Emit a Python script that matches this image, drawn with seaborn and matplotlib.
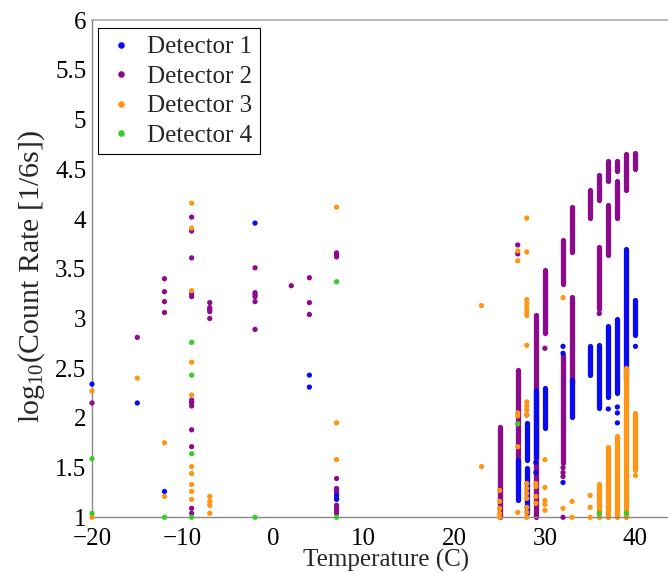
import numpy as np
import pandas as pd
import matplotlib
matplotlib.use('Agg')
import matplotlib.pyplot as plt
import seaborn as sns

# detector colours (MATLAB style)
colors = {'Detector 1': '#0a0af0', 'Detector 2': '#8c0a8c',
          'Detector 3': '#ff9512', 'Detector 4': '#36cc2a'}

# ---- isolated readings (temperature, log10 count rate) ----
d1_temp = [-20, -15, -12, -2, 4, 4, 7, 7, 28, 29, 29, 32, 32, 32, 37, 38, 38, 38, 40]
d1_rate = [2.34, 2.15, 1.26, 3.96, 2.43, 2.31, 1.22, 1.18, 2.03, 1.55, 1.45,
           2.72, 2.65, 1.35, 2.09, 2.11, 2.05, 1.95, 2.72]

d2_temp = [-20, -15, -12, -12, -12, -12,
           -9, -9, -9, -9, -9, -9, -9, -9, -9, -9, -9, -9, -9,
           -7, -7, -7, -7, -7,
           -2, -2, -2, -2, -2, -2,
           2, 4, 4, 4,
           7, 7, 7, 7, 7, 7, 7, 7, 7, 7, 7, 7,
           27, 27, 30, 32, 32, 32, 32, 36]
d2_rate = [2.15, 2.81, 3.40, 3.27, 3.17, 3.06,
           4.02, 3.88, 3.61, 3.25, 3.22, 2.18, 2.16, 2.15, 2.12, 1.88, 1.71, 1.09, 1.04,
           3.16, 3.11, 3.09, 3.07, 3.00,
           3.51, 3.26, 3.24, 3.22, 3.17, 2.89,
           3.33, 3.41, 3.16, 3.04,
           3.66, 3.64, 3.62, 1.39, 1.29, 1.27, 1.25, 1.19, 1.12, 1.09, 1.07, 1.04,
           3.74, 3.65, 2.70, 1.50, 1.45, 1.41, 1.00, 3.05]

d3_temp = [-20, -20, -15, -12, -12,
           -9, -9, -9, -9, -9, -9, -9, -9, -9, -9,
           -7, -7, -7, -7,
           7, 7, 7,
           23, 23,
           25, 25, 25, 25, 25,
           27, 27, 27, 27, 27, 27,
           28, 28, 28, 28, 28, 28, 28, 28, 28, 28, 28, 28, 28, 28, 28, 28, 28, 28, 28,
           29, 29, 29, 29,
           30, 30, 30, 30, 30,
           32, 32, 33, 33, 35, 35, 35, 40]
d3_rate = [2.27, 1.00, 2.40, 1.75, 1.21,
           4.16, 3.91, 3.28, 2.56, 2.23, 1.51, 1.44, 1.33, 1.26, 1.18,
           1.21, 1.16, 1.12, 1.04,
           4.12, 1.95, 1.58,
           3.13, 1.51,
           1.27, 1.16, 1.09, 1.04, 1.00,
           3.68, 3.58, 2.05, 2.02, 1.71, 1.05,
           4.01, 3.67, 3.19, 3.15, 3.11, 3.07, 3.03, 2.73, 2.16, 2.12, 2.08, 2.03,
           1.34, 1.29, 1.24, 1.19, 1.10, 1.05, 1.00,
           1.34, 1.31, 1.21, 1.14,
           1.58, 1.30, 1.17, 1.13, 1.07,
           3.21, 1.09, 1.16, 1.00, 1.22, 1.10, 1.00, 1.42]

d4_temp = [-20, -20, -12, -9, -9, -9, -9, -2, 7, 7, 27, 36, 39]
d4_rate = [1.59, 1.04, 1.00, 2.76, 2.43, 1.64, 1.00, 1.00, 3.37, 1.00, 1.94, 1.04, 1.04]

# ---- dense runs of readings: temperature, lowest and highest value ----
d1_run_temp = [27, 28, 28, 29, 30, 33, 35, 36, 37, 38, 39, 40]
d1_run_lo = [1.17, 1.58, 1.04, 1.61, 1.90, 2.01, 2.43, 2.10, 2.21, 2.25, 2.40, 2.83]
d1_run_hi = [1.58, 1.95, 1.50, 2.28, 2.30, 2.38, 2.72, 2.73, 2.92, 2.99, 3.70, 3.19]

d2_run_temp = [25, 27, 29, 30, 32, 32, 33, 33, 35, 36, 36, 37, 37, 38, 38, 39, 40]
d2_run_lo = [1.00, 1.38, 1.00, 2.85, 3.35, 1.55, 3.67, 2.35, 4.01, 4.19, 3.10,
             4.38, 3.64, 4.48, 4.01, 4.29, 4.50]
d2_run_hi = [1.91, 2.48, 3.04, 3.49, 3.79, 2.63, 4.12, 3.22, 4.29, 4.44, 3.72,
             4.58, 4.14, 4.58, 4.38, 4.65, 4.67]

d3_run_temp = [36, 37, 38, 39, 40]
d3_run_lo = [1.00, 1.00, 1.00, 1.00, 1.48]
d3_run_hi = [1.34, 1.71, 1.82, 2.50, 2.05]

points = pd.concat([
    pd.DataFrame({'temp': d2_temp, 'rate': d2_rate, 'det': 'Detector 2'}),
    pd.DataFrame({'temp': d1_temp, 'rate': d1_rate, 'det': 'Detector 1'}),
    pd.DataFrame({'temp': d3_temp, 'rate': d3_rate, 'det': 'Detector 3'}),
    pd.DataFrame({'temp': d4_temp, 'rate': d4_rate, 'det': 'Detector 4'}),
], ignore_index=True)

sns.set_theme(style='white')
plt.rcParams['font.family'] = ['Liberation Serif', 'DejaVu Serif']
plt.rcParams['mathtext.fontset'] = 'custom'
plt.rcParams['mathtext.rm'] = 'Liberation Serif'
plt.rcParams['mathtext.it'] = 'Liberation Serif:italic'

fig = plt.figure(figsize=(6.68, 5.72), dpi=100)
ax_w = (45 + 20) * 9.058 / 668
ax = fig.add_axes([92 / 668, 1 - 517.3 / 572, ax_w, 497 / 572])

msize = 3.8  # dot diameter in points
runs = [('Detector 2', d2_run_temp, d2_run_lo, d2_run_hi),
        ('Detector 1', d1_run_temp, d1_run_lo, d1_run_hi),
        ('Detector 3', d3_run_temp, d3_run_lo, d3_run_hi)]
for i, (det, t, lo, hi) in enumerate(runs):
    ax.vlines(t, lo, hi, colors=colors[det], linewidth=msize, capstyle='round',
              clip_on=False, zorder=2 + i * 0.1)

sns.scatterplot(data=points, x='temp', y='rate', hue='det',
                hue_order=['Detector 1', 'Detector 2', 'Detector 3', 'Detector 4'],
                palette=colors, s=msize ** 2, linewidth=0, ax=ax,
                clip_on=False, zorder=3)

ax.set_xlim(-20, 45)
ax.set_ylim(1, 6)
ax.set_xticks(np.arange(-20, 41, 10))
ax.set_yticks(np.arange(1, 6.01, 0.5))
ax.set_yticklabels(['%g' % v for v in np.arange(1, 6.01, 0.5)])

fs = 18
ax.tick_params(axis='both', direction='in', length=4, width=1, color='#888888',
               labelsize=fs, labelcolor='black', top=False, right=False)
ax.tick_params(axis='x', pad=8)
ax.tick_params(axis='y', pad=4)
for side in ['left', 'bottom']:
    ax.spines[side].set_color('#888888')
    ax.spines[side].set_linewidth(1.0)
ax.spines['top'].set_color('#aaaaaa')
ax.spines['top'].set_linewidth(1.2)
ax.spines['right'].set_visible(False)

ax.set_xlabel('Temperature (C)', fontsize=fs, labelpad=-1)
ax.set_ylabel(r'log$_{\mathrm{10}}$(Count Rate [1/6s])', fontsize=21.5)
ax.yaxis.set_label_coords((47 - 92) / (ax_w * 668), 0.485)

handles, labels = ax.get_legend_handles_labels()
leg = ax.legend(handles, labels, loc='upper left',
                bbox_to_anchor=((98.3 - 92) / (ax_w * 668), (517.3 - 28.3) / 497),
                borderaxespad=0, frameon=True, fancybox=False, framealpha=1,
                edgecolor='black', fontsize=fs, borderpad=0.3, handlelength=1.2,
                handletextpad=0.45, labelspacing=0.28, markerscale=1.25)
leg.get_frame().set_linewidth(0.8)

fig.savefig('out.png', dpi=100)
